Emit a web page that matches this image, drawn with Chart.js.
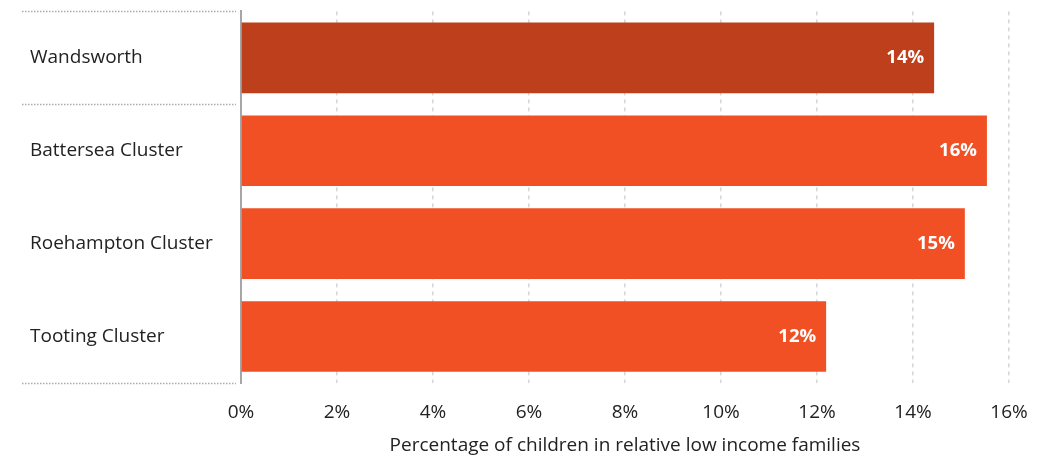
<!DOCTYPE html>
<html>
<head>
<meta charset="utf-8">
<script src="https://cdn.jsdelivr.net/npm/chart.js@4"></script>
<style>
html,body{margin:0;padding:0;background:#fff;}
#wrap{width:1041px;height:457px;position:relative;}
</style>
</head>
<body>
<div id="wrap"><canvas id="c" width="1041" height="457"></canvas></div>
<script>
const categories = ["Wandsworth", "Battersea Cluster", "Roehampton Cluster", "Tooting Cluster"];
const values = [14.44, 15.54, 15.08, 12.19];
const barColors = ["#BE3F1B", "#F15025", "#F15025", "#F15025"];
const xTicks = [0, 2, 4, 6, 8, 10, 12, 14, 16];
const xTitle = "Percentage of children in relative low income families";
const separatorAfter = [0]; // dotted separator after these category indices

const FONT = "'Open Sans', 'Noto Sans', sans-serif";

const separators = {
  id: 'separators',
  afterDraw(chart) {
    const ctx = chart.ctx, y = chart.scales.y;
    const lines = [-0.5, ...separatorAfter.map(i => i + 0.5), categories.length - 0.5];
    ctx.save();
    ctx.strokeStyle = '#ababab';
    ctx.lineWidth = 1.5;
    ctx.setLineDash([1.5, 1.5]);
    lines.forEach(v => {
      const py = Math.round(y.getPixelForValue(v));
      ctx.beginPath();
      ctx.moveTo(22, py + 0.5);
      ctx.lineTo(236, py + 0.5);
      ctx.stroke();
    });
    ctx.restore();
  }
};

const valueLabels = {
  id: 'valueLabels',
  afterDatasetsDraw(chart) {
    const ctx = chart.ctx;
    const meta = chart.getDatasetMeta(0);
    ctx.save();
    ctx.font = "bold 18.5px " + FONT;
    ctx.fillStyle = '#ffffff';
    ctx.textAlign = 'right';
    ctx.textBaseline = 'middle';
    meta.data.forEach((bar, i) => {
      ctx.fillText(Math.round(values[i]) + '%', bar.x - 10, bar.y);
    });
    ctx.restore();
  }
};

new Chart(document.getElementById('c'), {
  type: 'bar',
  data: {
    labels: categories,
    datasets: [{
      data: values,
      backgroundColor: barColors,
      borderWidth: 0,
      categoryPercentage: 0.76,
      barPercentage: 1.0
    }]
  },
  options: {
    indexAxis: 'y',
    responsive: false,
    animation: false,
    devicePixelRatio: 1,
    layout: { padding: { top: 11, right: 32, left: 30, bottom: 0 } },
    plugins: { legend: { display: false }, tooltip: { enabled: false } },
    scales: {
      x: {
        min: 0, max: 16,
        afterBuildTicks(scale) { scale.ticks = xTicks.map(v => ({ value: v })); },
        afterFit(scale) { scale.height = 74; scale.paddingRight = 0; scale.paddingLeft = 0; },
        ticks: {
          callback: v => v + '%',
          color: '#222',
          font: { family: FONT, size: 19 },
          padding: 18,
          maxRotation: 0, autoSkip: false
        },
        grid: {
          color: '#d6d6d6', lineWidth: 1.5, drawTicks: false,
          tickLength: 0
        },
        border: { display: false, dash: [4, 4] },
        title: {
          display: true, text: xTitle, color: '#222',
          font: { family: FONT, size: 19 },
          padding: { top: 2, bottom: 0 }
        }
      },
      y: {
        afterFit(scale) { scale.width = 211; },
        ticks: {
          crossAlign: 'far',
          color: '#222',
          font: { family: FONT, size: 19 },
          padding: 0
        },
        grid: { display: false },
        border: { display: true, color: '#a6a6a6', width: 2 }
      }
    }
  },
  plugins: [separators, valueLabels]
});
</script>
</body>
</html>
